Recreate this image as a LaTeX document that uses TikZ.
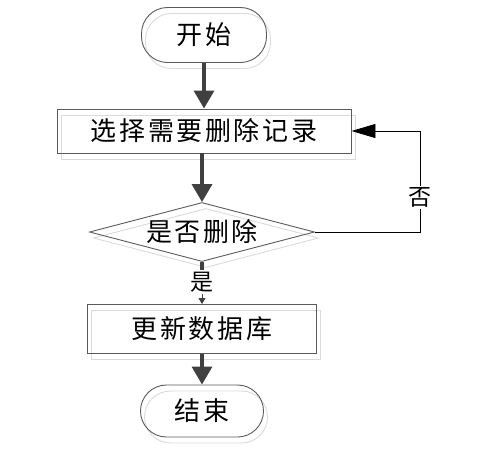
\documentclass[tikz,border=0pt]{standalone}
\usepackage{fontspec}
\newfontfamily\cjk[LetterSpace=10]{Noto Sans CJK SC}
\newfontfamily\cjklbl{Noto Sans CJK SC}
\usetikzlibrary{arrows.meta,shapes.geometric,shadows}
\definecolor{edgegray}{HTML}{5A5A5A}
\definecolor{shadegray}{HTML}{DADADA}
\definecolor{arrowgray}{HTML}{404040}
\tikzset{
  shp/.style={draw=edgegray, line width=0.9pt, inner sep=0pt, font=\cjk\fontsize{26}{29}\selectfont,
    general shadow={draw=shadegray, line width=0.9pt, shadow xshift=4pt, shadow yshift=-6pt}},
  term/.style={shp, rectangle, rounded corners=26pt},
  proc/.style={shp, rectangle},
  decis/.style={shp, diamond, aspect=3.8},
  thickarrow/.style={draw=arrowgray, line width=3.5pt, -{Triangle[length=18pt,width=20pt]}},
  thickline/.style={draw=arrowgray, line width=3.5pt},
  smallarrow/.style={draw=arrowgray, line width=0.8pt, -{Triangle[length=6pt,width=7pt]}},
  fbline/.style={draw=black, line width=0.9pt, -{Triangle[length=24pt,width=14pt]}},
  lbl/.style={fill=white, inner sep=1.5pt, font=\cjklbl\fontsize{23}{26}\selectfont}
}
\begin{document}
\begin{tikzpicture}[x=1pt,y=-1pt]
\useasboundingbox (0,0) rectangle (478,452);
\node[term, minimum width=125pt, minimum height=55pt] (start) at (204,35) {开始};
\node[proc, minimum width=294pt, minimum height=44pt] (b1) at (204,131) {选择需要删除记录};
\node[decis, minimum width=225pt, minimum height=59pt] (d) at (202,232) {是否删除};
\node[proc, minimum width=229pt, minimum height=49pt] (b2) at (202,329) {更新数据库};
\node[term, minimum width=123pt, minimum height=52pt] (end) at (202,411) {结束};
\node[lbl] (yes) at (202,282) {是};
\coordinate (fb) at (420,232);

\draw[thickarrow] (start.south) -- (b1.north);
\draw[thickarrow] (b1.south -| d.north) -- (d.north);
\draw[thickline] (d.south) -- (yes.north);
\draw[smallarrow] (yes.south) -- (b2.north);
\draw[thickarrow] (b2.south) -- (end.north);
\draw[fbline] (d.east) -- (fb) -- node[lbl, pos=0.34] (no) {否} (fb |- b1.east) -- (b1.east);
\end{tikzpicture}
\end{document}
